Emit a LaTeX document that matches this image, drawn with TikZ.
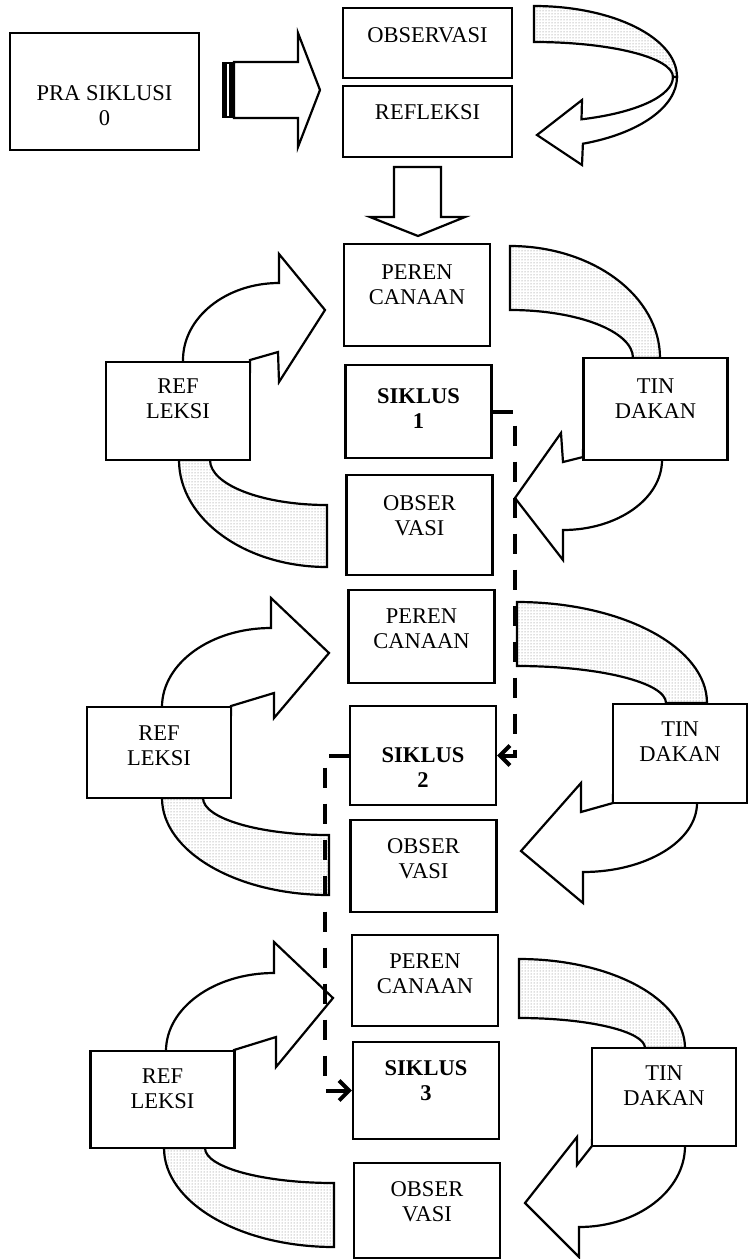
\documentclass[tikz,border=0pt]{standalone}
\usepackage{fontspec}
\setmainfont{Liberation Serif}
\usetikzlibrary{patterns,arrows.meta}
\begin{document}
\begin{tikzpicture}[
  x = 1pt, y = -1pt,
  line width = 2.2pt,
  box/.style={draw, fill=white, align=center, inner sep=0pt,
    font=\fontsize{22.5}{25}\selectfont, text height=30pt, text depth=10pt},
  mid/.style={box, minimum width=146pt},
  side/.style={box, minimum width=144pt},
  band/.style={draw, pattern=dots, pattern color=black!55},
  hollow/.style={draw, fill=white},
  track/.style={line width=4pt, dash pattern=on 20pt off 16pt,
    -{Straight Barb[length=10pt, width=20pt]}}]
\useasboundingbox (0,0) rectangle (748,1259);

% pra siklus
\draw[band] (534,6) arc[start angle=-90, end angle=0, x radius=143, y radius=71]
  -- (673,77) arc[start angle=0, end angle=-90, x radius=139, y radius=35] -- cycle;
\draw[hollow] (677,77) arc[start angle=0, end angle=70, x radius=143, y radius=71]
  -- (582,165) -- (537,135) -- (582,100) -- (581.5,119.3)
  arc[start angle=70, end angle=0, x radius=139, y radius=45] -- cycle;
\draw[hollow] (234,62) -- (298,62) -- (298,33) -- (320,90) -- (298,147)
  -- (298,118) -- (234,118) -- cycle;
\fill (222,62) rectangle (234,118);
\fill[white] (227,64) rectangle (229,116);
\draw[hollow] (394,167) -- (441,167) -- (441,217) -- (465,217) -- (418,236)
  -- (370,217) -- (394,217) -- cycle;

\node[box, minimum width=189pt, minimum height=117pt, text height=78pt]
  (pra) at (104.5,91.5) {PRA SIKLUSI\\0};
\node[box, minimum width=169pt, minimum height=70pt, text height=15pt, text depth=16pt]
  (obs) at (427.5,43) {OBSERVASI};
\node[box, minimum width=169pt, minimum height=71pt, text height=15pt, text depth=20pt]
  (refl) at (427.5,121.5) {REFLEKSI};

% siklus 1
\draw[band] (510,246) arc[start angle=-90, end angle=0, x radius=150, y radius=112]
  -- (633,358) arc[start angle=0, end angle=-90, x radius=123, y radius=48] -- cycle;
\draw[band] (179,460) arc[start angle=180, end angle=90, x radius=148, y radius=107]
  -- (327,505) arc[start angle=90, end angle=180, x radius=117, y radius=45] -- cycle;
\draw[hollow] (183,372) -- (183,360) arc[start angle=180, end angle=270, x radius=96, y radius=77]
  -- (279,254) -- (325,310) -- (279,382) -- (278,352) -- (250,360) -- (250,372) -- cycle;
\draw[hollow] (662,450) -- (662,460) arc[start angle=0, end angle=90, x radius=99, y radius=70]
  -- (563,560) -- (515,498) -- (561,433) -- (563,462) -- (583,457) -- (583,450) -- cycle;

\node[mid, minimum height=102pt, text height=28pt] (p1) at (417,295) {PEREN\\CANAAN};
\node[mid, minimum height=93pt, text height=44pt] (s1) at (418.5,411.5) {\textbf{SIKLUS}\\\textbf{1}};
\node[mid, minimum height=100pt] (o1) at (419.5,525) {OBSER\\VASI};
\node[side, minimum height=98pt, text height=24pt] (r1) at (178,411) {REF\\LEKSI};
\node[side, minimum height=102pt, text height=28pt] (t1) at (655.5,409) {TIN\\DAKAN};

% siklus 2
\draw[band] (517,602) arc[start angle=-90, end angle=0, x radius=190, y radius=101]
  -- (666,703) arc[start angle=0, end angle=-90, x radius=149, y radius=37] -- cycle;
\draw[band] (162,798) arc[start angle=180, end angle=90, x radius=167, y radius=97]
  -- (329,835) arc[start angle=90, end angle=180, x radius=126, y radius=37] -- cycle;
\draw[hollow] (162,715) -- (162,707) arc[start angle=180, end angle=270, x radius=109, y radius=79]
  -- (271,598) -- (329,653) -- (274,718) -- (274,693) -- (231,706) -- (231,715) -- cycle;
\draw[hollow] (697,795) -- (697,803) arc[start angle=0, end angle=90, x radius=114, y radius=69]
  -- (583,903) -- (521,851) -- (581,783) -- (581,812) -- (613,803) -- (613,795) -- cycle;

\node[mid, minimum height=93pt, text height=34pt] (p2) at (421.5,636.5) {PEREN\\CANAAN};
\node[mid, minimum height=99pt, text height=74pt] (s2) at (423,755.5) {\textbf{SIKLUS}\\\textbf{2}};
\node[mid, minimum height=92pt, text height=34pt] (o2) at (423.5,866) {OBSER\\VASI};
\node[side, minimum height=91pt, text height=36pt] (r2) at (159,752.5) {REF\\LEKSI};
\node[box, minimum width=134pt, minimum height=99pt, text height=26pt] (t2) at (680,753.5) {TIN\\DAKAN};

% siklus 3
\draw[band] (519,959) arc[start angle=-90, end angle=0, x radius=166, y radius=89]
  -- (645,1048) arc[start angle=0, end angle=-90, x radius=126, y radius=30] -- cycle;
\draw[band] (164,1148) arc[start angle=180, end angle=90, x radius=170, y radius=99]
  -- (334,1183) arc[start angle=90, end angle=180, x radius=129, y radius=35] -- cycle;
\draw[hollow] (166,1060) -- (166,1051) arc[start angle=180, end angle=270, x radius=108, y radius=78]
  -- (274,942) -- (333,998) -- (276,1067) -- (276,1037) -- (234,1050) -- (234,1060) -- cycle;
\draw[hollow] (685,1140) -- (685,1146) arc[start angle=0, end angle=90, x radius=106, y radius=81]
  -- (579,1257) -- (525,1203) -- (577,1137) -- (577,1165) -- (592,1146) -- (592,1140) -- cycle;

\node[mid, minimum height=91pt, text height=36pt] (p3) at (425,980.5) {PEREN\\CANAAN};
\node[mid, minimum height=97pt] (s3) at (426,1090.5) {\textbf{SIKLUS}\\\textbf{3}};
\node[mid, minimum height=95pt, text height=32pt] (o3) at (427,1210.5) {OBSER\\VASI};
\node[side, minimum height=97pt, text height=28pt] (r3) at (162.5,1099.5) {REF\\LEKSI};
\node[side, minimum height=98pt, text height=26pt] (t3) at (664,1097) {TIN\\DAKAN};

% jalur siklus
\draw[track] (s1.east) -- ++(22,0) |- (s2.east);
\draw[track] (s2.west) -- ++(-24,0) |- (s3.west);
\end{tikzpicture}
\end{document}
